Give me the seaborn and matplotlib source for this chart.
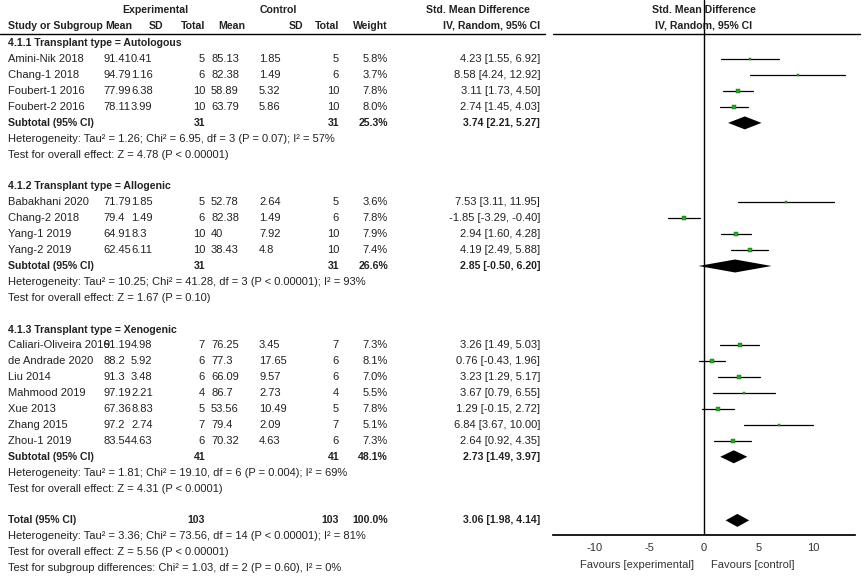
import numpy as np
import seaborn as sns
import matplotlib.pyplot as plt

sns.set_theme(style="white")
plt.rcParams['font.family'] = ['Liberation Sans', 'DejaVu Sans']

groups = ["4.1.1 Transplant type = Autologous",
          "4.1.2 Transplant type = Allogenic",
          "4.1.3 Transplant type = Xenogenic"]
studies = [
    ["Amini-Nik 2018", "Chang-1 2018", "Foubert-1 2016", "Foubert-2 2016"],
    ["Babakhani 2020", "Chang-2 2018", "Yang-1 2019", "Yang-2 2019"],
    ["Caliari-Oliveira 2016", "de Andrade 2020", "Liu 2014", "Mahmood 2019",
     "Xue 2013", "Zhang 2015", "Zhou-1 2019"],
]
exp_mean = [["91.41", "94.79", "77.99", "78.11"], ["71.79", "79.4", "64.91", "62.45"],
            ["91.19", "88.2", "91.3", "97.19", "67.36", "97.2", "83.54"]]
exp_sd = [["0.41", "1.16", "6.38", "3.99"], ["1.85", "1.49", "8.3", "6.11"],
          ["4.98", "5.92", "3.48", "2.21", "8.83", "2.74", "4.63"]]
exp_n = [[5, 6, 10, 10], [5, 6, 10, 10], [7, 6, 6, 4, 5, 7, 6]]
ctl_mean = [["85.13", "82.38", "58.89", "63.79"], ["52.78", "82.38", "40", "38.43"],
            ["76.25", "77.3", "66.09", "86.7", "53.56", "79.4", "70.32"]]
ctl_sd = [["1.85", "1.49", "5.32", "5.86"], ["2.64", "1.49", "7.92", "4.8"],
          ["3.45", "17.65", "9.57", "2.73", "10.49", "2.09", "4.63"]]
ctl_n = [[5, 6, 10, 10], [5, 6, 10, 10], [7, 6, 6, 4, 5, 7, 6]]
weight = [[5.8, 3.7, 7.8, 8.0], [3.6, 7.8, 7.9, 7.4], [7.3, 8.1, 7.0, 5.5, 7.8, 5.1, 7.3]]
smd = [[4.23, 8.58, 3.11, 2.74], [7.53, -1.85, 2.94, 4.19], [3.26, 0.76, 3.23, 3.67, 1.29, 6.84, 2.64]]
lo = [[1.55, 4.24, 1.73, 1.45], [3.11, -3.29, 1.60, 2.49], [1.49, -0.43, 1.29, 0.79, -0.15, 3.67, 0.92]]
hi = [[6.92, 12.92, 4.50, 4.03], [11.95, -0.40, 4.28, 5.88], [5.03, 1.96, 5.17, 6.55, 2.72, 10.00, 4.35]]
sub_n = [31, 31, 41]
sub_w = [25.3, 26.6, 48.1]
sub_est = [3.74, 2.85, 2.73]
sub_lo = [2.21, -0.50, 1.49]
sub_hi = [5.27, 6.20, 3.97]
sub_het = ["Heterogeneity: Tau\u00b2 = 1.26; Chi\u00b2 = 6.95, df = 3 (P = 0.07); I\u00b2 = 57%",
           "Heterogeneity: Tau\u00b2 = 10.25; Chi\u00b2 = 41.28, df = 3 (P < 0.00001); I\u00b2 = 93%",
           "Heterogeneity: Tau\u00b2 = 1.81; Chi\u00b2 = 19.10, df = 6 (P = 0.004); I\u00b2 = 69%"]
sub_test = ["Test for overall effect: Z = 4.78 (P < 0.00001)",
            "Test for overall effect: Z = 1.67 (P = 0.10)",
            "Test for overall effect: Z = 4.31 (P < 0.0001)"]
tot_n = 103
tot_est, tot_lo, tot_hi = 3.06, 1.98, 4.14
tot_text = ["Heterogeneity: Tau\u00b2 = 3.36; Chi\u00b2 = 73.56, df = 14 (P < 0.00001); I\u00b2 = 81%",
            "Test for overall effect: Z = 5.56 (P < 0.00001)",
            "Test for subgroup differences: Chi\u00b2 = 1.03, df = 2 (P = 0.60), I\u00b2 = 0%"]
ticks = [-10, -5, 0, 5, 10]

W, H = 865, 576
fig = plt.figure(figsize=(8.65, 5.76), dpi=100)
ax = fig.add_axes([0, 0, 1, 1])
ax.set_xlim(0, W)
ax.set_ylim(H, 0)
ax.axis("off")

AX_L, AX_R, AX_Y = 553, 855, 535
fx = fig.add_axes([AX_L / W, 1 - AX_Y / H, (AX_R - AX_L) / W, AX_Y / H])
fx.set_xlim(-13.85, 13.85)
fx.set_ylim(AX_Y, 0)
fx.patch.set_alpha(0)
for s in ["top", "left", "right"]:
    fx.spines[s].set_visible(False)
fx.spines["bottom"].set_color("black")
fx.set_yticks([])
fx.set_xticks(ticks)
fx.set_xticklabels([str(t) for t in ticks], fontsize=8, color="#333333")
fx.tick_params(axis="x", length=5, width=1, color="black", direction="out", pad=1)
fx.axvline(0, color="black", lw=1)
fx.text(-0.9, AX_Y + 25, "Favours [experimental]", ha="right", va="top", fontsize=8, color="#333333")
fx.text(0.6, AX_Y + 25, "Favours [control]", ha="left", va="top", fontsize=8, color="#333333")

bold = dict(fontsize=7.6, fontweight="bold", color="#222222", va="center")
norm = dict(fontsize=8.0, color="#222222", va="center")
ax.text(155, 10, "Experimental", ha="center", **bold)
ax.text(278, 10, "Control", ha="center", **bold)
ax.text(478, 10, "Std. Mean Difference", ha="center", **bold)
ax.text(704, 10, "Std. Mean Difference", ha="center", **bold)
hdr = [(8, "Study or Subgroup", "left"), (132, "Mean", "right"), (163, "SD", "right"),
       (205, "Total", "right"), (245, "Mean", "right"), (303, "SD", "right"),
       (339, "Total", "right"), (388, "Weight", "right"), (540, "IV, Random, 95% CI", "right")]
for x, t, a in hdr:
    ax.text(x, 26, t, ha=a, **bold)
ax.text(704, 26, "IV, Random, 95% CI", ha="center", **bold)
ax.plot([0, 545], [34, 34], color="black", lw=1)
ax.plot([553, 860], [34, 34], color="black", lw=1)

step = 15.9


def ypos(r):
    return 10 + r * step


def diamond(y, est, l, h):
    fx.fill([l, est, h, est], [y, y - 6.5, y, y + 6.5], color="black", lw=0)


r = 2.1
for g in range(3):
    ax.text(8, ypos(r), groups[g], ha="left", **bold)
    r += 1
    for i, name in enumerate(studies[g]):
        y = ypos(r)
        ax.text(8, y, name, ha="left", **norm)
        ax.text(103, y, exp_mean[g][i], ha="left", **norm)
        ax.text(131, y, exp_sd[g][i], ha="left", **norm)
        ax.text(205, y, str(exp_n[g][i]), ha="right", **norm)
        ax.text(211, y, ctl_mean[g][i], ha="left", **norm)
        ax.text(259, y, ctl_sd[g][i], ha="left", **norm)
        ax.text(339, y, str(ctl_n[g][i]), ha="right", **norm)
        ax.text(388, y, f"{weight[g][i]:.1f}%", ha="right", **norm)
        ax.text(540, y, f"{smd[g][i]:.2f} [{lo[g][i]:.2f}, {hi[g][i]:.2f}]", ha="right", **norm)
        fx.plot([lo[g][i], hi[g][i]], [y, y], color="black", lw=0.9)
        fx.scatter([smd[g][i]], [y], marker="s", s=weight[g][i] * 0.7,
                   color="#22aa22", edgecolor="#116611", lw=0.3, zorder=3)
        r += 1
    y = ypos(r)
    ax.text(8, y, "Subtotal (95% CI)", ha="left", **bold)
    ax.text(205, y, str(sub_n[g]), ha="right", **bold)
    ax.text(339, y, str(sub_n[g]), ha="right", **bold)
    ax.text(388, y, f"{sub_w[g]:.1f}%", ha="right", **bold)
    ax.text(540, y, f"{sub_est[g]:.2f} [{sub_lo[g]:.2f}, {sub_hi[g]:.2f}]", ha="right", **bold)
    diamond(y, sub_est[g], sub_lo[g], sub_hi[g])
    r += 1
    ax.text(8, ypos(r), sub_het[g], ha="left", **norm)
    r += 1
    ax.text(8, ypos(r), sub_test[g], ha="left", **norm)
    r += 2

y = ypos(r)
ax.text(8, y, "Total (95% CI)", ha="left", **bold)
ax.text(205, y, str(tot_n), ha="right", **bold)
ax.text(339, y, str(tot_n), ha="right", **bold)
ax.text(388, y, "100.0%", ha="right", **bold)
ax.text(540, y, f"{tot_est:.2f} [{tot_lo:.2f}, {tot_hi:.2f}]", ha="right", **bold)
diamond(y, tot_est, tot_lo, tot_hi)
for t in tot_text:
    r += 1
    ax.text(8, ypos(r), t, ha="left", **norm)

fig.savefig("out.png", dpi=100, facecolor="white")
